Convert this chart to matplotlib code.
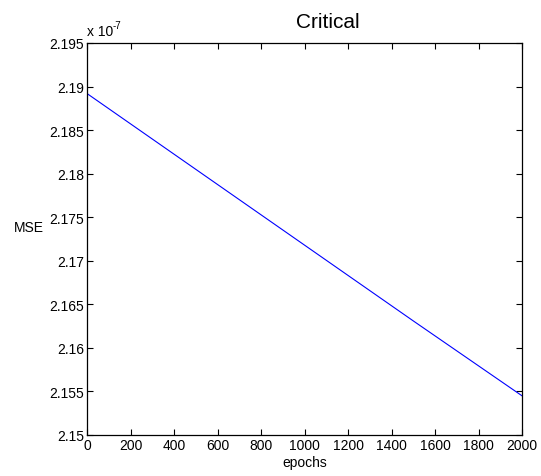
import matplotlib
matplotlib.use("Agg")
import matplotlib.pyplot as plt

# values, in units of 1e-7
epochs = [0, 500, 1000, 1500, 2000]
mse = [2.1892, 2.1805, 2.1718, 2.1631, 2.1545]

xticks = list(range(0, 2001, 200))
yticks = [2.15, 2.155, 2.16, 2.165, 2.17, 2.175, 2.18, 2.185, 2.19, 2.195]
ytick_labels = ["2.15", "2.155", "2.16", "2.165", "2.17", "2.175", "2.18", "2.185", "2.19", "2.195"]

plt.rcParams["font.family"] = ["Liberation Sans", "DejaVu Sans"]

fig = plt.figure(figsize=(5.41, 4.77), dpi=100)
ax = fig.add_axes([87 / 541, 1 - 436 / 477, 435 / 541, 392 / 477])

ax.plot(epochs, mse, color="#0000ff", linewidth=0.8)

ax.set_xlim(0, 2000)
ax.set_ylim(2.15, 2.195)
ax.set_xticks(xticks)
ax.set_yticks(yticks)
ax.set_yticklabels(ytick_labels)
ax.tick_params(direction="in", length=4, width=0.8, top=True, right=True,
               labelsize=10, pad=2, colors="black")
for s in ax.spines.values():
    s.set_linewidth(0.9)

ax.set_xlabel("epochs", fontsize=10, labelpad=2)

fig.text(328 / 541, 1 - 28 / 477, "Critical", fontsize=15, ha="center", va="baseline")
fig.text(14 / 541, 1 - 228 / 477, "MSE", fontsize=10, ha="left", va="center")

# MATLAB style exponent above the axis
fig.text(87 / 541, 1 - 36 / 477, "x 10", fontsize=10, ha="left", va="baseline")
fig.text(113 / 541, 1 - 29 / 477, "-7", fontsize=7, ha="left", va="baseline")

fig.savefig("out.png", dpi=100)
